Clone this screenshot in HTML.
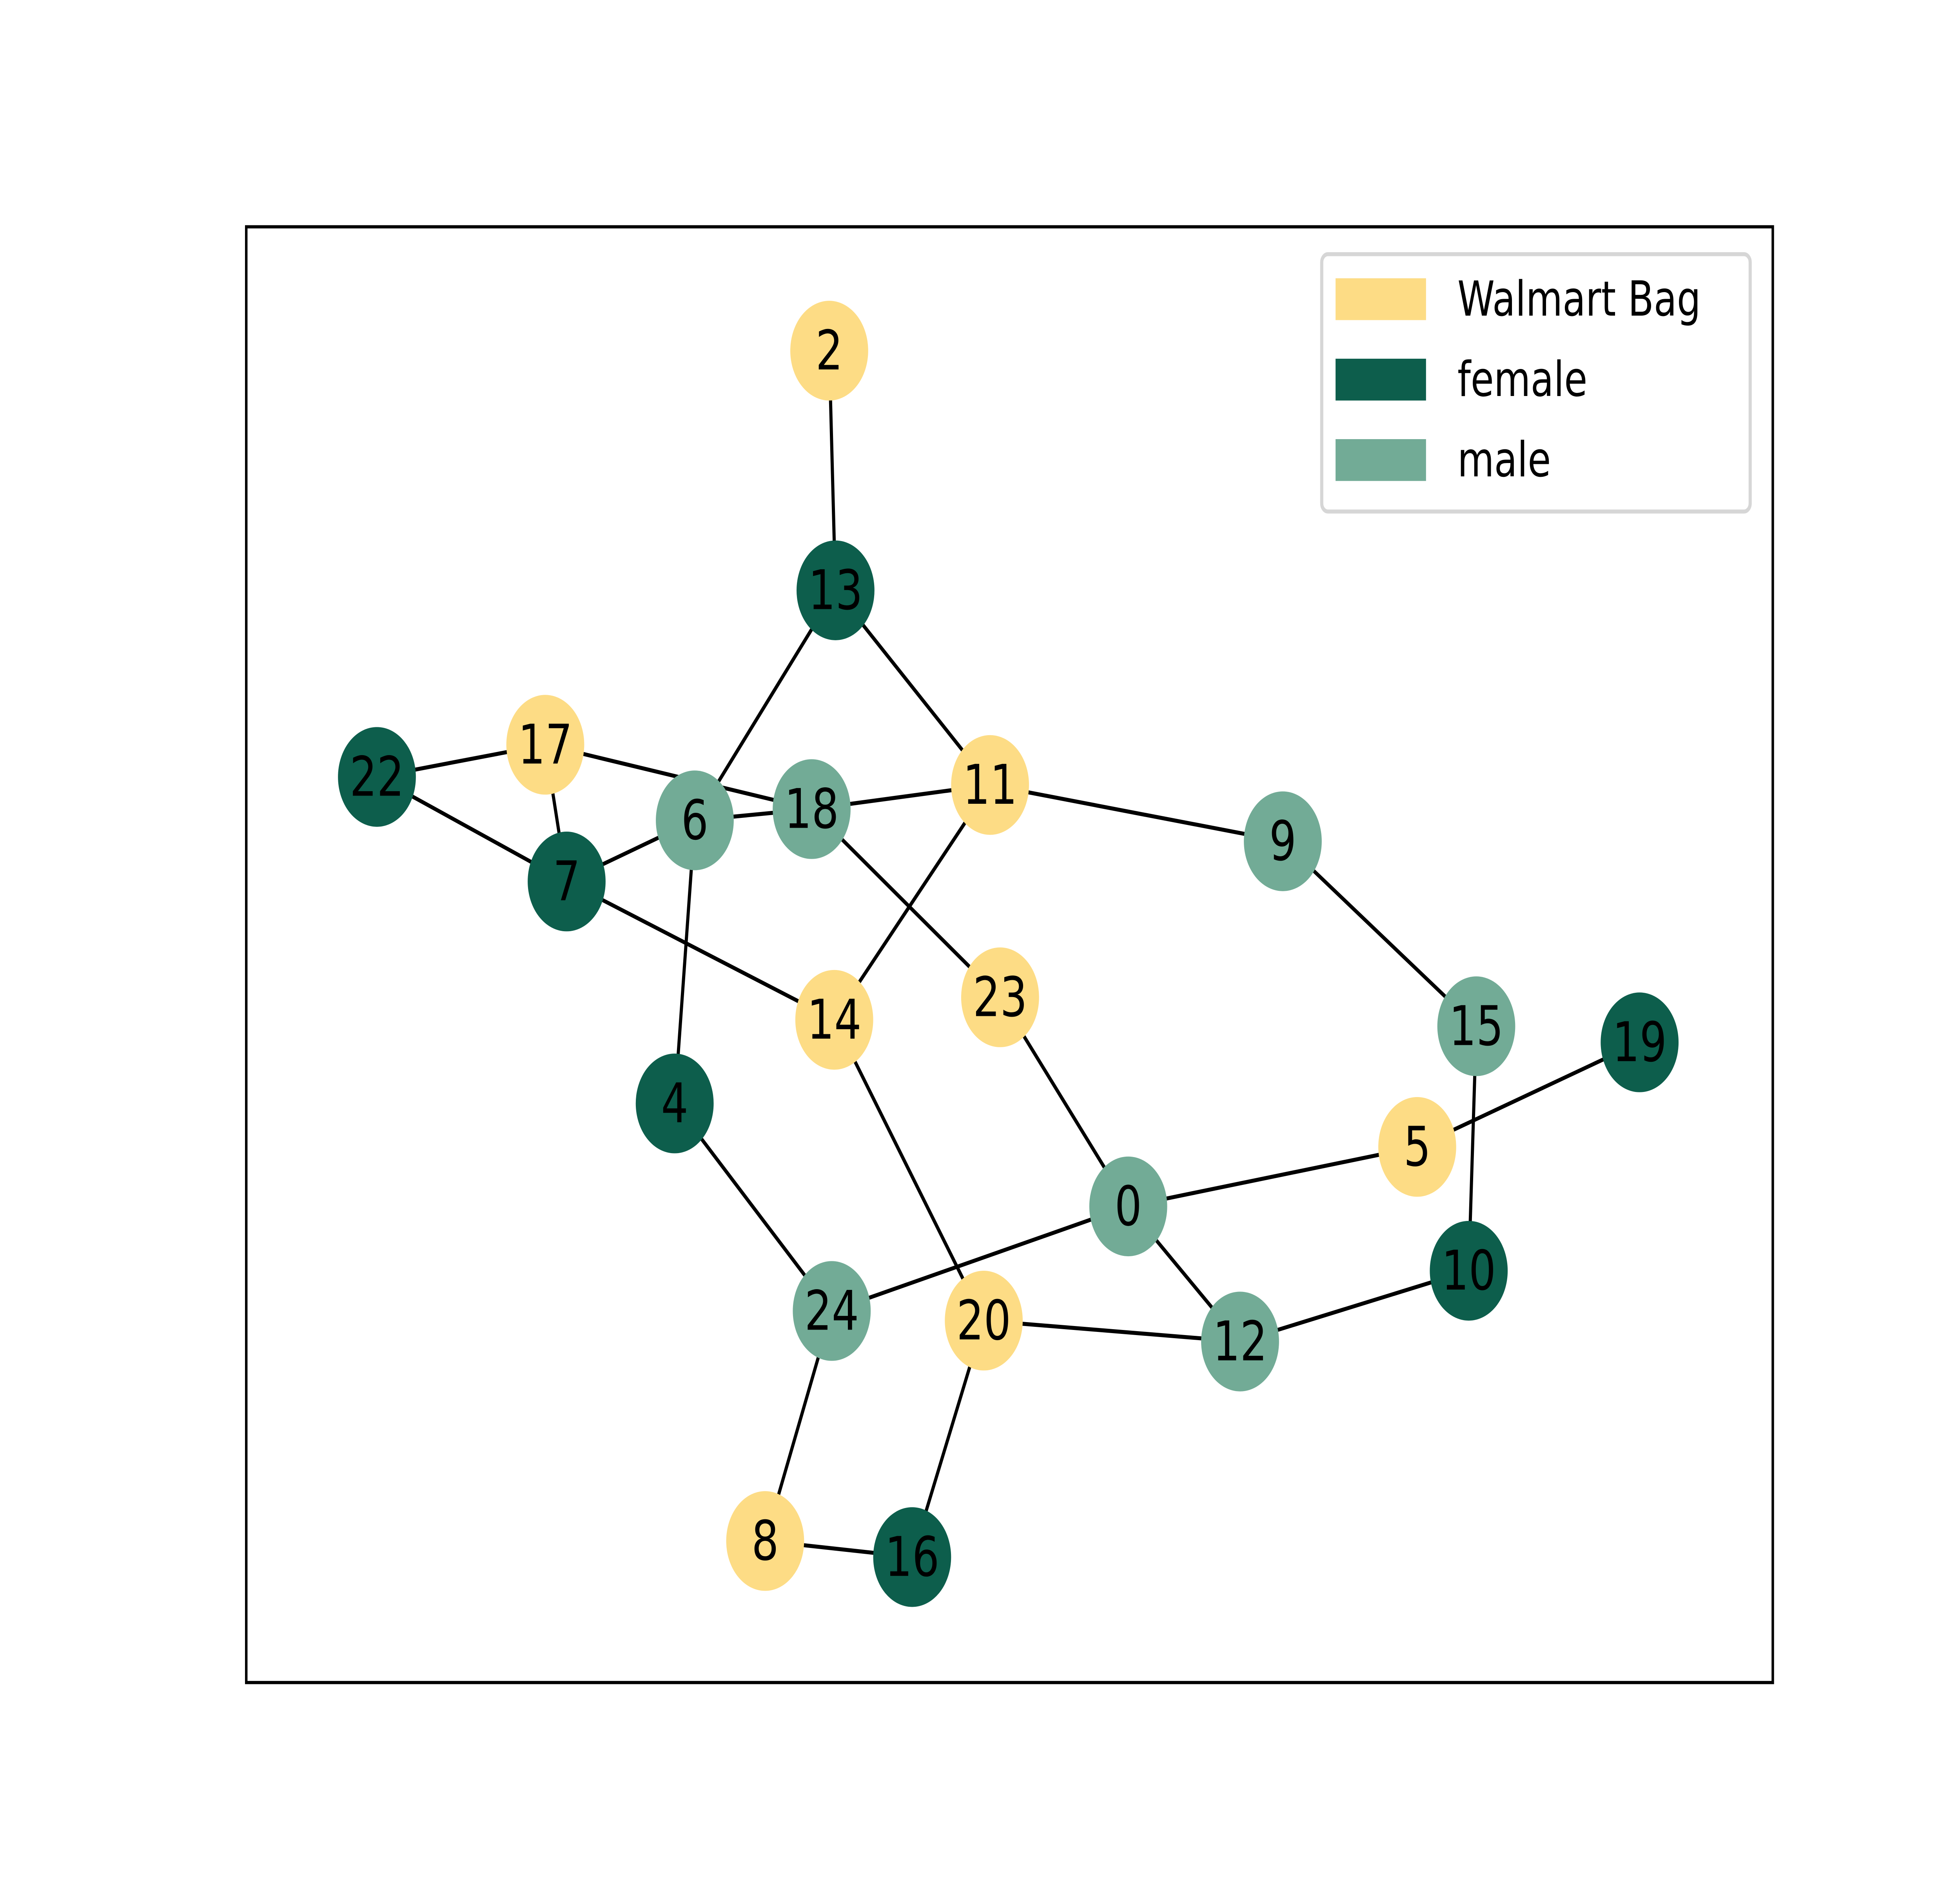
<!DOCTYPE html>
<html><head><meta charset="utf-8"><style>html,body{margin:0;padding:0;background:#fff;width:100%;height:100%;overflow:hidden}svg{display:block;width:100vw;height:100vh}</style></head><body>
<svg viewBox="0 0 1560 1170" preserveAspectRatio="none" xmlns="http://www.w3.org/2000/svg" font-family="'DejaVu Sans','Liberation Sans',sans-serif">
<rect x="0" y="0" width="1560" height="1170" fill="#fff"/>
<rect x="196" y="141" width="1215" height="905" fill="none" stroke="#000" stroke-width="2"/>
<g stroke="#000" stroke-width="2.5">
<line x1="660" y1="218" x2="665" y2="367"/>
<line x1="665" y1="367" x2="553" y2="510"/>
<line x1="665" y1="367" x2="788" y2="488"/>
<line x1="300" y1="483" x2="434" y2="463"/>
<line x1="300" y1="483" x2="451" y2="548"/>
<line x1="434" y1="463" x2="451" y2="548"/>
<line x1="434" y1="463" x2="646" y2="503"/>
<line x1="451" y1="548" x2="553" y2="510"/>
<line x1="553" y1="510" x2="646" y2="503"/>
<line x1="646" y1="503" x2="788" y2="488"/>
<line x1="788" y1="488" x2="1021" y2="523"/>
<line x1="788" y1="488" x2="664" y2="634"/>
<line x1="451" y1="548" x2="664" y2="634"/>
<line x1="553" y1="510" x2="537" y2="686"/>
<line x1="646" y1="503" x2="796" y2="620"/>
<line x1="1021" y1="523" x2="1175" y2="638"/>
<line x1="1175" y1="638" x2="1169" y2="790"/>
<line x1="1305" y1="648" x2="1128" y2="713"/>
<line x1="1128" y1="713" x2="898" y2="750"/>
<line x1="796" y1="620" x2="898" y2="750"/>
<line x1="898" y1="750" x2="662" y2="815"/>
<line x1="898" y1="750" x2="987" y2="834"/>
<line x1="537" y1="686" x2="662" y2="815"/>
<line x1="664" y1="634" x2="783" y2="821"/>
<line x1="783" y1="821" x2="987" y2="834"/>
<line x1="987" y1="834" x2="1169" y2="790"/>
<line x1="662" y1="815" x2="609" y2="958"/>
<line x1="783" y1="821" x2="726" y2="968"/>
<line x1="609" y1="958" x2="726" y2="968"/>
</g>
<g>
<circle cx="898" cy="750" r="31" fill="#72ab96"/>
<circle cx="660" cy="218" r="31" fill="#fddc85"/>
<circle cx="537" cy="686" r="31" fill="#0d5e4c"/>
<circle cx="1128" cy="713" r="31" fill="#fddc85"/>
<circle cx="553" cy="510" r="31" fill="#72ab96"/>
<circle cx="451" cy="548" r="31" fill="#0d5e4c"/>
<circle cx="609" cy="958" r="31" fill="#fddc85"/>
<circle cx="1021" cy="523" r="31" fill="#72ab96"/>
<circle cx="1169" cy="790" r="31" fill="#0d5e4c"/>
<circle cx="788" cy="488" r="31" fill="#fddc85"/>
<circle cx="987" cy="834" r="31" fill="#72ab96"/>
<circle cx="665" cy="367" r="31" fill="#0d5e4c"/>
<circle cx="664" cy="634" r="31" fill="#fddc85"/>
<circle cx="1175" cy="638" r="31" fill="#72ab96"/>
<circle cx="726" cy="968" r="31" fill="#0d5e4c"/>
<circle cx="434" cy="463" r="31" fill="#fddc85"/>
<circle cx="646" cy="503" r="31" fill="#72ab96"/>
<circle cx="1305" cy="648" r="31" fill="#0d5e4c"/>
<circle cx="783" cy="821" r="31" fill="#fddc85"/>
<circle cx="300" cy="483" r="31" fill="#0d5e4c"/>
<circle cx="796" cy="620" r="31" fill="#fddc85"/>
<circle cx="662" cy="815" r="31" fill="#72ab96"/>
</g>
<g font-size="34" text-anchor="middle" dominant-baseline="central" fill="#000">
<text x="898" y="750">0</text><text x="660" y="218">2</text><text x="537" y="686">4</text>
<text x="1128" y="713">5</text><text x="553" y="510">6</text><text x="451" y="548">7</text>
<text x="609" y="958">8</text><text x="1021" y="523">9</text><text x="1169" y="790">10</text>
<text x="788" y="488">11</text><text x="987" y="834">12</text><text x="665" y="367">13</text>
<text x="664" y="634">14</text><text x="1175" y="638">15</text><text x="726" y="968">16</text>
<text x="434" y="463">17</text><text x="646" y="503">18</text><text x="1305" y="648">19</text>
<text x="783" y="821">20</text><text x="300" y="483">22</text><text x="796" y="620">23</text>
<text x="662" y="815">24</text>
</g>
<rect x="1052" y="158" width="341" height="160" rx="5" fill="#fff" stroke="#d6d6d6" stroke-width="2.5"/>
<rect x="1063" y="173" width="72" height="26" fill="#fddc85"/>
<rect x="1063" y="223" width="72" height="26" fill="#0d5e4c"/>
<rect x="1063" y="273" width="72" height="26" fill="#72ab96"/>
<g font-size="30" fill="#000" dominant-baseline="central">
<text x="1160" y="186">Walmart Bag</text>
<text x="1160" y="236">female</text>
<text x="1160" y="286">male</text>
</g>
</svg>
</body></html>
